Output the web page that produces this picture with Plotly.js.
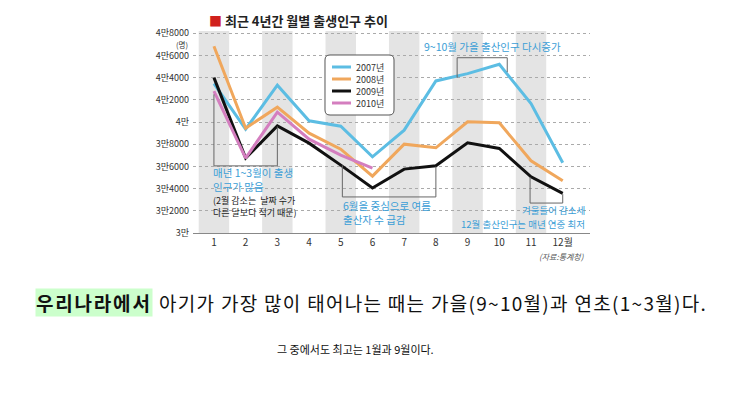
<!DOCTYPE html>
<html><head><meta charset="utf-8">
<script src="https://cdn.plot.ly/plotly-3.0.1.min.js"></script>
<style>html,body{margin:0;padding:0;background:#fff}#c{width:746px;height:393px}</style>
</head><body><div id="c"></div>
<script>
const months = [1,2,3,4,5,6,7,8,9,10,11,12];
const monthLabels = ["1","2","3","4","5","6","7","8","9","10","11","12월"];
const y2007 = [43470,39360,43320,40110,39630,36870,39270,43710,44370,45210,41670,36330];
const y2008 = [46830,39450,41340,39000,37560,35130,38010,37680,40020,39930,36510,34710];
const y2009 = [44010,36750,39660,38100,36120,34050,35760,36060,38130,37620,35070,33570];
const months2010 = [1,2,3,4,5,6];
const y2010 = [42780,36750,40890,38460,37020,35850];
const yTickVals = [30000,32000,34000,36000,38000,40000,42000,44000,46000,48000];
const yTickText = ["3만","3만2000","3만4000","3만6000","3만8000","4만","4만2000","4만4000","4만6000","4만8000"];
const seriesNames = ["2007년","2008년","2009년","2010년"];

const W=746,H=393,L=193,R=590,T=30,B=233;
const px = x => (x-L)/(R-L);
const py = y => (B-y)/(B-T);
const FONT = "Noto Sans CJK KR, sans-serif";
const BLUE_T = "#3b9ed6";

const colors = ["#5cbde3","#f0a75c","#111111","#d47ebf"];
const traces = [
  {x:months,y:y2007,name:seriesNames[0]},
  {x:months,y:y2008,name:seriesNames[1]},
  {x:months,y:y2009,name:seriesNames[2]},
  {x:months2010,y:y2010,name:seriesNames[3]}
].map((t,i)=>Object.assign(t,{type:"scatter",mode:"lines",line:{color:colors[i],width:3},hoverinfo:"skip",showlegend:false}));

const shapes = [];
months.filter(m=>m%2===1).forEach(m=>{
  shapes.push({type:"rect",xref:"x",yref:"y",x0:m-0.48,x1:m+0.48,y0:30000,y1:48200,fillcolor:"#e4e4e4",line:{width:0},layer:"below"});
});
const br = (path)=>({type:"path",xref:"x",yref:"y",path:path,line:{color:"#666",width:1}});
shapes.push(br("M1,42500 L1,36050 L3,36050 L3,39600"));
shapes.push(br("M5.05,36100 L5.05,33250 L8,33250 L8,36000"));
shapes.push(br("M10.97,35050 L10.97,32700 L12,32700 L12,33500"));
shapes.push(br("M8.67,44000 L8.67,45800 L10.25,45800 L10.25,44500"));

// legend box (rounded) drawn in paper coordinates
(function(){
  const x0=325,x1=394,y0=55,y1=115,r=5;
  const P=(x,y)=>px(x).toFixed(5)+","+py(y).toFixed(5);
  const path="M"+P(x0+r,y0)+" L"+P(x1-r,y0)+" Q"+P(x1,y0)+" "+P(x1,y0+r)+" L"+P(x1,y1-r)+" Q"+P(x1,y1)+" "+P(x1-r,y1)+
    " L"+P(x0+r,y1)+" Q"+P(x0,y1)+" "+P(x0,y1-r)+" L"+P(x0,y0+r)+" Q"+P(x0,y0)+" "+P(x0+r,y0)+" Z";
  shapes.push({type:"path",xref:"paper",yref:"paper",path:path,fillcolor:"#fff",line:{color:"#555",width:1}});
})();
const legendRows=[67,79,91,103];

const ann = [];
const A = (x,y,text,opt)=>ann.push(Object.assign({xref:"paper",yref:"paper",x:px(x),y:py(y),text:text,showarrow:false,xanchor:"left",yanchor:"middle",font:{family:FONT,size:10,color:"#333"}},opt||{}));
seriesNames.forEach((n,i)=>{
  shapes.push({type:"line",xref:"paper",yref:"paper",x0:px(332),x1:px(351),y0:py(legendRows[i]),y1:py(legendRows[i]),line:{color:colors[i],width:3}});
  A(355,legendRows[i],n,{borderpad:0,font:{family:FONT,size:9,color:"#333"}});
});
A(207,20,"<span style='color:#d0211d'>■</span> <b>최근 4년간 월별 출생인구 추이</b>",{font:{family:FONT,size:13,color:"#222"}});
A(189,44.5,"(명)",{xanchor:"right",borderpad:0,font:{family:FONT,size:7.5,color:"#333"}});
A(422,46,"9~10월 가을 출산인구 다시증가",{font:{family:FONT,size:10.5,color:BLUE_T}});
A(211,172,"매년 1~3월이 출생",{font:{family:FONT,size:10.5,color:BLUE_T}});
A(211,186,"인구가 많음",{font:{family:FONT,size:10.5,color:BLUE_T}});
A(211,200,"(2월 감소는  날짜 수가",{font:{family:FONT,size:9,color:"#222"}});
A(211,212,"다른 달보다 적기 때문)",{font:{family:FONT,size:9,color:"#222"}});
A(341,205,"6월을 중심으로 여름",{font:{family:FONT,size:10.5,color:BLUE_T}});
A(341,219,"출산자 수 급감",{font:{family:FONT,size:10.5,color:BLUE_T}});
A(586,210,"겨울들어 감소세",{xanchor:"right",borderpad:0,font:{family:FONT,size:9.5,color:BLUE_T}});
A(586,224,"12월 출산인구는 매년 연중 최저",{xanchor:"right",borderpad:0,font:{family:FONT,size:9.5,color:BLUE_T}});
A(586,256,"<i>(자료:통계청)</i>",{xanchor:"right",font:{family:FONT,size:8,color:"#555"}});
A(35,302,"<span style='letter-spacing:1.8px'><b>우리나라에서</b></span>",{bgcolor:"#ccffcc",borderpad:0,font:{family:FONT,size:19,color:"#111"}});
A(157,302,"<span style='letter-spacing:1.3px'>아기가 가장 많이 태어나는 때는 가을(9~10월)과 연초(1~3월)다.</span>",{font:{family:FONT,size:19,color:"#111"}});
A(275,349,"그 중에서도 최고는 1월과 9월이다.",{font:{family:FONT,size:11,color:"#111"}});

const layout = {
  width:W,height:H,margin:{l:L,r:W-R,t:T,b:H-B},
  paper_bgcolor:"#fff",plot_bgcolor:"rgba(0,0,0,0)",
  font:{family:FONT,color:"#333"},
  xaxis:{range:[0.34,12.86],tickvals:months,ticktext:monthLabels,showgrid:false,zeroline:false,
    showline:true,linecolor:"#888",linewidth:1,ticks:"",tickfont:{size:10,color:"#333"},fixedrange:true},
  yaxis:{range:[30000,48300],tickvals:yTickVals,ticktext:yTickText,showgrid:true,gridcolor:"#aaa",griddash:"dot",gridwidth:1,
    zeroline:false,ticks:"",tickfont:{size:9,color:"#333"},ticklabelstandoff:3,fixedrange:true},
  showlegend:false,
  shapes:shapes,annotations:ann
};
Plotly.newPlot("c",traces,layout,{staticPlot:true,displayModeBar:false});
</script></body></html>
